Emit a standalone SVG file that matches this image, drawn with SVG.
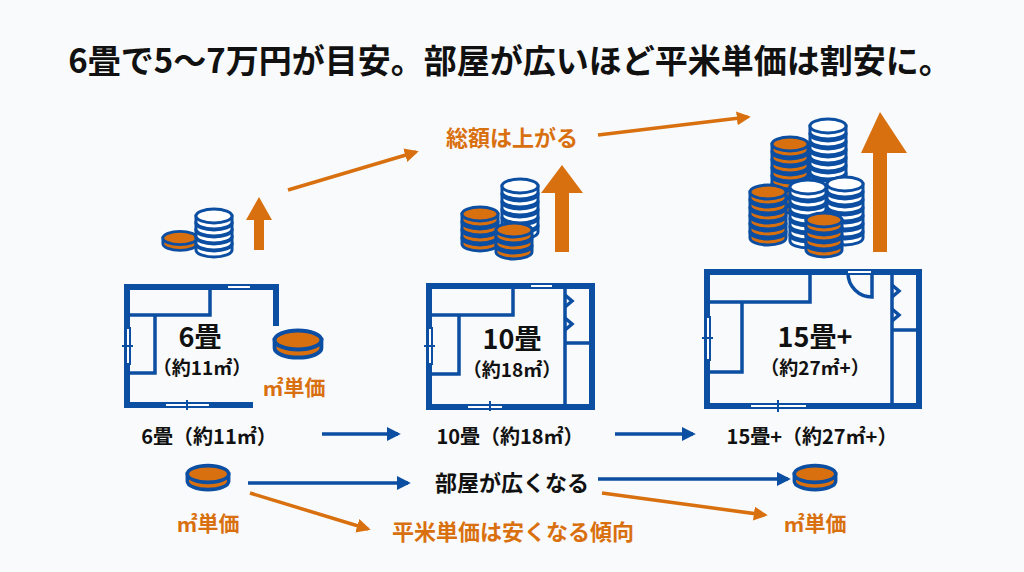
<svg xmlns="http://www.w3.org/2000/svg" xmlns:xlink="http://www.w3.org/1999/xlink" width="1024" height="572" viewBox="0 0 1024 572">
<style>
text{font-family:"Noto Sans CJK JP","Noto Sans",sans-serif;font-weight:bold;text-anchor:middle}
.t{fill:#111}.o{fill:#d9700f}
.wall{fill:none;stroke:#0b4ea2;stroke-width:6;stroke-linecap:square}
.in{fill:none;stroke:#0b4ea2;stroke-width:3.5}
.win{fill:#fff;stroke:#0b4ea2;stroke-width:2}
.bl{stroke:#0b4ea2;stroke-width:3.5;fill:none}
.or{stroke:#d9700f;stroke-width:3.5;fill:none}
</style>
<defs>
<marker id="ab" viewBox="0 0 10 10" refX="8" refY="5" markerWidth="4" markerHeight="4" orient="auto"><path d="M0,0L10,5L0,10z" fill="#0b4ea2"/></marker>
<marker id="ao" viewBox="0 0 10 10" refX="8" refY="5" markerWidth="4" markerHeight="4" orient="auto"><path d="M0,0L10,5L0,10z" fill="#d9700f"/></marker>
<g id="co"><path d="M-18,0v6a18,7 0 0 0 36,0v-6z" fill="#d9700f" stroke="#0b4ea2" stroke-width="3"/><ellipse rx="18" ry="7" fill="#d9700f" stroke="#0b4ea2" stroke-width="3"/></g>
<g id="cw"><path d="M-18,0v6a18,7 0 0 0 36,0v-6z" fill="#fff" stroke="#0b4ea2" stroke-width="3"/><ellipse rx="18" ry="7" fill="#fff" stroke="#0b4ea2" stroke-width="3"/></g>
</defs>
<rect width="1024" height="572" fill="#f9fafb"/>
<text x="510" y="73" class="t" font-size="33">6畳で5〜7万円が目安。部屋が広いほど平米単価は割安に。</text>

<g id="connectors">
<line x1="288" y1="190" x2="416" y2="152" class="or" marker-end="url(#ao)"/>
<line x1="598" y1="135" x2="748" y2="117" class="or" marker-end="url(#ao)"/>
<line x1="322" y1="434" x2="398" y2="434" class="bl" marker-end="url(#ab)"/>
<line x1="615" y1="434" x2="693" y2="434" class="bl" marker-end="url(#ab)"/>
<line x1="248" y1="483" x2="408" y2="483" class="bl" marker-end="url(#ab)"/>
<line x1="598" y1="479" x2="788" y2="479" class="bl" marker-end="url(#ab)"/>
<line x1="250" y1="493" x2="368" y2="529" class="or" marker-end="url(#ao)"/>
<line x1="602" y1="493" x2="765" y2="515" class="or" marker-end="url(#ao)"/>
</g>
<text x="512" y="146" class="o" font-size="22">総額は上がる</text>

<g id="room1">
<g transform="translate(180,238) scale(0.95)"><use xlink:href="#co"/></g>
<g transform="translate(214,0)"><use xlink:href="#cw" y="244"/><use xlink:href="#cw" y="237"/><use xlink:href="#cw" y="230"/><use xlink:href="#cw" y="223"/><use xlink:href="#cw" y="216"/></g>
<path d="M254,250V220H246L259,197L272,220H264V250z" fill="#d9700f"/>
<path d="M276,323V287H127V405H250" class="wall"/>
<path d="M127,315H210V287M155,315V373H127" class="in"/>
<rect x="227" y="285" width="24" height="4" class="win"/>
<rect x="126" y="328" width="4" height="36" class="win"/>
<line x1="122" y1="346" x2="133" y2="346" stroke="#0b4ea2" stroke-width="2"/>
<rect x="165" y="403" width="45" height="4" class="win"/>
<line x1="187" y1="400" x2="187" y2="410" stroke="#0b4ea2" stroke-width="2"/>
<text x="200" y="347" class="t" font-size="27">6畳</text>
<text x="202" y="375" class="t" font-size="19">（約11㎡）</text>
<g transform="translate(298,340) scale(1.3,1.35)"><use xlink:href="#co"/></g>
<text x="294" y="395" class="o" font-size="21">㎡単価</text>
<text x="209" y="444" class="t" font-size="20">6畳（約11㎡）</text>
</g>

<g id="room2">
<g transform="translate(480,0)"><use xlink:href="#co" y="238"/><use xlink:href="#co" y="230"/><use xlink:href="#co" y="222"/><use xlink:href="#co" y="214"/></g>
<g transform="translate(520,0)"><use xlink:href="#cw" y="226"/><use xlink:href="#cw" y="218"/><use xlink:href="#cw" y="210"/><use xlink:href="#cw" y="202"/><use xlink:href="#cw" y="194"/><use xlink:href="#cw" y="186"/></g>
<g transform="translate(514,0)"><use xlink:href="#co" y="246"/><use xlink:href="#co" y="238"/><use xlink:href="#co" y="230"/></g>
<path d="M555,252V193H541L562,165L583,193H569V252z" fill="#d9700f"/>
<rect x="429" y="286" width="163" height="121" class="wall"/>
<path d="M429,315H513V286M459,315V374H429M565,286V407M565,343H592" class="in"/>
<path d="M565,295L572,301L565,307M565,318L572,324L565,330" class="in" stroke-width="2.5"/>
<rect x="530" y="284" width="23" height="4" class="win"/>
<rect x="428" y="328" width="4" height="36" class="win"/>
<line x1="424" y1="346" x2="435" y2="346" stroke="#0b4ea2" stroke-width="2"/>
<rect x="467" y="405" width="36" height="4" class="win"/>
<line x1="490" y1="401" x2="490" y2="411" stroke="#0b4ea2" stroke-width="2"/>
<text x="512" y="349" class="t" font-size="27">10畳</text>
<text x="512" y="377" class="t" font-size="19">（約18㎡）</text>
<text x="510" y="444" class="t" font-size="20">10畳（約18㎡）</text>
</g>

<g id="room3">
<g transform="translate(790,0)"><use xlink:href="#co" y="200"/><use xlink:href="#co" y="192"/><use xlink:href="#co" y="184"/><use xlink:href="#co" y="176"/><use xlink:href="#co" y="168"/><use xlink:href="#co" y="160"/><use xlink:href="#co" y="152"/><use xlink:href="#co" y="144"/></g>
<g transform="translate(828,0)"><use xlink:href="#cw" y="190"/><use xlink:href="#cw" y="182"/><use xlink:href="#cw" y="174"/><use xlink:href="#cw" y="166"/><use xlink:href="#cw" y="158"/><use xlink:href="#cw" y="150"/><use xlink:href="#cw" y="142"/><use xlink:href="#cw" y="134"/><use xlink:href="#cw" y="126"/></g>
<g transform="translate(768,0)"><use xlink:href="#co" y="232"/><use xlink:href="#co" y="224"/><use xlink:href="#co" y="216"/><use xlink:href="#co" y="208"/><use xlink:href="#co" y="200"/><use xlink:href="#co" y="192"/></g>
<g transform="translate(845,0)"><use xlink:href="#cw" y="232"/><use xlink:href="#cw" y="224"/><use xlink:href="#cw" y="216"/><use xlink:href="#cw" y="208"/><use xlink:href="#cw" y="200"/><use xlink:href="#cw" y="192"/><use xlink:href="#cw" y="184"/></g>
<g transform="translate(808,0)"><use xlink:href="#cw" y="235"/><use xlink:href="#cw" y="227"/><use xlink:href="#cw" y="219"/><use xlink:href="#cw" y="211"/><use xlink:href="#cw" y="203"/><use xlink:href="#cw" y="195"/><use xlink:href="#cw" y="187"/></g>
<g transform="translate(824,0)"><use xlink:href="#co" y="244"/><use xlink:href="#co" y="236"/><use xlink:href="#co" y="228"/><use xlink:href="#co" y="220"/></g>
<path d="M873,252V153H861L880,112L907,153H887V252z" fill="#d9700f"/>
<rect x="707" y="272" width="212" height="134" class="wall"/>
<path d="M810,272V302H707M742,302V372H707M892,272V406M892,330H919" class="in"/>
<path d="M872,272V297A24,24 0 0 1 848,273" class="in" stroke-width="2"/>
<path d="M892,285L899,291L892,297M892,309L899,315L892,321" class="in" stroke-width="2.5"/>
<rect x="847" y="270" width="25" height="4" class="win"/>
<rect x="706" y="317" width="4" height="43" class="win"/>
<line x1="702" y1="338" x2="713" y2="338" stroke="#0b4ea2" stroke-width="2"/>
<rect x="750" y="404" width="57" height="4" class="win"/>
<line x1="778" y1="400" x2="778" y2="412" stroke="#0b4ea2" stroke-width="2"/>
<text x="815" y="347" class="t" font-size="27">15畳+</text>
<text x="815" y="375" class="t" font-size="19">（約27㎡+）</text>
<text x="812" y="444" class="t" font-size="20">15畳+（約27㎡+）</text>
</g>

<g id="bottom">
<g transform="translate(208,474) scale(1.15,1.2)"><use xlink:href="#co"/></g>
<text x="208" y="531" class="o" font-size="21">㎡単価</text>
<text x="512" y="491" class="t" font-size="22">部屋が広くなる</text>
<text x="513" y="540" class="o" font-size="22">平米単価は安くなる傾向</text>
<g transform="translate(815,474) scale(1.15,1.2)"><use xlink:href="#co"/></g>
<text x="815" y="531" class="o" font-size="21">㎡単価</text>
</g>
</svg>
